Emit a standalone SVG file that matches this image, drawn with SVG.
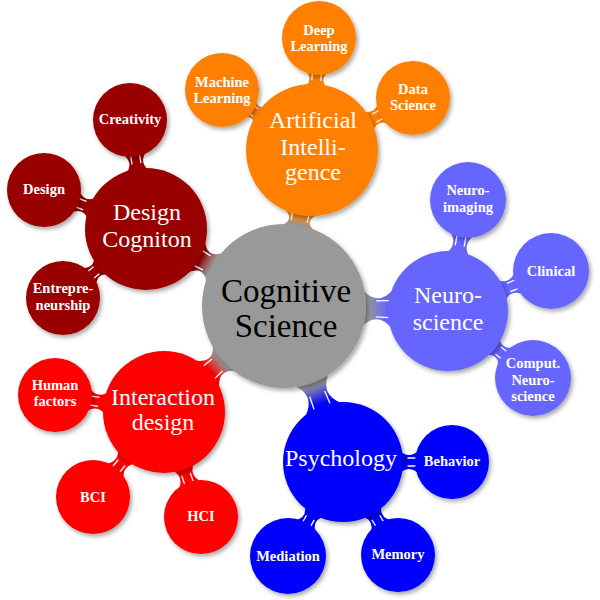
<svg xmlns="http://www.w3.org/2000/svg" width="600" height="600" viewBox="0 0 600 600">
<defs>
<filter id="sh" x="-20%" y="-20%" width="150%" height="150%">
<feDropShadow dx="2" dy="2.5" stdDeviation="2" flood-color="#000" flood-opacity="0.35"/>
</filter>
<linearGradient id="gA" x1="0" y1="0" x2="1" y2="0"><stop offset="0.2" stop-color="#999999"/><stop offset="0.8" stop-color="#ff8000"/></linearGradient>
<linearGradient id="gN" x1="0" y1="0" x2="1" y2="0"><stop offset="0.2" stop-color="#999999"/><stop offset="0.8" stop-color="#6666ff"/></linearGradient>
<linearGradient id="gP" x1="0" y1="0" x2="1" y2="0"><stop offset="0.2" stop-color="#999999"/><stop offset="0.8" stop-color="#0000ff"/></linearGradient>
<linearGradient id="gI" x1="0" y1="0" x2="1" y2="0"><stop offset="0.2" stop-color="#999999"/><stop offset="0.8" stop-color="#ff0000"/></linearGradient>
<linearGradient id="gD" x1="0" y1="0" x2="1" y2="0"><stop offset="0.2" stop-color="#999999"/><stop offset="0.8" stop-color="#990000"/></linearGradient>
</defs>
<style>
.c{filter:url(#sh)}
.tk{stroke:#fff;stroke-width:1.3;fill:none}
text{font-family:'Liberation Serif','DejaVu Serif','Times New Roman',serif;text-anchor:middle}
.t0{font-size:33px;fill:#000}
.t1{font-size:24px;fill:#fff}
.t2{font-size:14.5px;font-weight:bold;fill:#fff}
.or{fill:#ff8000}.dr{fill:#990000}.lb{fill:#6666ff}.rd{fill:#ff0000}.bl{fill:#0000ff}.gr{fill:#999999}
</style>
<rect width="600" height="600" fill="#fff"/>
<g id="connectors">
<g transform="translate(284,306) rotate(-79.8)"><path fill="url(#gA)" d="M77,-20 Q87.25,-1 97.5,-20 L97.5,20 Q87.25,1 77,20Z"/><path class="tk" d="M86,-8 L93.5,-8.5 M86,8 L93.5,8.5"/></g>
<g transform="translate(284,306) rotate(1.75)"><path fill="url(#gN)" d="M77,-20 Q93.05,-1 109.1,-20 L109.1,20 Q93.05,1 77,20Z"/><path class="tk" d="M92,-8 L105.1,-8.5 M92,8 L105.1,8.5"/></g>
<g transform="translate(284,306) rotate(69.28)"><path fill="url(#gP)" d="M77,-20 Q94.4,-1 111.8,-20 L111.8,20 Q94.4,1 77,20Z"/><path class="tk" d="M94,-8 L107.8,-8.5 M94,8 L107.8,8.5"/></g>
<g transform="translate(284,306) rotate(138.55)"><path fill="url(#gI)" d="M77,-20 Q90.55,-1 104.1,-20 L104.1,20 Q90.55,1 77,20Z"/><path class="tk" d="M89,-8 L100.1,-8.5 M89,8 L100.1,8.5"/></g>
<g transform="translate(284,306) rotate(-150.84)"><path fill="url(#gD)" d="M77,-20 Q89.5,-1 102,-20 L102,20 Q89.5,1 77,20Z"/><path class="tk" d="M88.5,-8 L98,-8.5 M88.5,8 L98,8.5"/></g>

<g transform="translate(312,150) rotate(-86.4)"><path class="or" d="M61,-13 Q70.6,-1 80.2,-13 L80.2,13 Q70.6,1 61,13Z"/><path class="tk" d="M69.5,-4.5 L76.2,-4.5 M69.5,4.5 L76.2,4.5"/></g>
<g transform="translate(312,150) rotate(-27.24)"><path class="or" d="M61,-13 Q71.3,-1 81.6,-13 L81.6,13 Q71.3,1 61,13Z"/><path class="tk" d="M70,-4.5 L77.6,-4.5 M70,4.5 L77.6,4.5"/></g>
<g transform="translate(312,150) rotate(-146.31)"><path class="or" d="M61,-13 Q68.6,-1 76.2,-13 L76.2,13 Q68.6,1 61,13Z"/><path class="tk" d="M67.6,-4.5 L72.2,-4.5 M67.6,4.5 L72.2,4.5"/></g>

<g transform="translate(448,311) rotate(-79.8)"><path class="lb" d="M55,-13 Q67.4,-1 79.8,-13 L79.8,13 Q67.4,1 55,13Z"/><path class="tk" d="M66,-4.5 L75.8,-4.5 M66,4.5 L75.8,4.5"/></g>
<g transform="translate(448,311) rotate(-21.22)"><path class="lb" d="M55,-13 Q66.25,-1 77.5,-13 L77.5,13 Q66.25,1 55,13Z"/><path class="tk" d="M65,-4.5 L73.5,-4.5 M65,4.5 L73.5,4.5"/></g>
<g transform="translate(448,311) rotate(38.25)"><path class="lb" d="M55,-13 Q65.1,-1 75.2,-13 L75.2,13 Q65.1,1 55,13Z"/><path class="tk" d="M64,-4.5 L71.2,-4.5 M64,4.5 L71.2,4.5"/></g>

<g transform="translate(343,462) rotate(0)"><path class="bl" d="M55,-13 Q66,-1 77,-13 L77,13 Q66,1 55,13Z"/><path class="tk" d="M64.5,-4 L73,-4 M64.5,4 L73,4"/></g>
<g transform="translate(343,462) rotate(120.33)"><path class="bl" d="M55,-13 Q65.45,-1 75.9,-13 L75.9,13 Q65.45,1 55,13Z"/><path class="tk" d="M64.5,-4.5 L71.9,-4.5 M64.5,4.5 L71.9,4.5"/></g>
<g transform="translate(343,462) rotate(59.4)"><path class="bl" d="M55,-13 Q65.5,-1 76,-13 L76,13 Q65.5,1 55,13Z"/><path class="tk" d="M64.5,-4.5 L72,-4.5 M64.5,4.5 L72,4.5"/></g>

<g transform="translate(164,412) rotate(-171.14)"><path class="rd" d="M56,-13 Q67.15,-1 78.3,-13 L78.3,13 Q67.15,1 56,13Z"/><path class="tk" d="M66,-4.5 L74.3,-4.5 M66,4.5 L74.3,4.5"/></g>
<g transform="translate(164,412) rotate(129.87)"><path class="rd" d="M56,-13 Q67.4,-1 78.75,-13 L78.75,13 Q67.4,1 56,13Z"/><path class="tk" d="M66,-4.5 L74.75,-4.5 M66,4.5 L74.75,4.5"/></g>
<g transform="translate(164,412) rotate(70.59)"><path class="rd" d="M56,-13 Q67.65,-1 79.3,-13 L79.3,13 Q67.65,1 56,13Z"/><path class="tk" d="M66,-4.5 L75.3,-4.5 M66,4.5 L75.3,4.5"/></g>

<g transform="translate(146,229) rotate(-98.35)"><path class="dr" d="M56,-13 Q67.1,-1 78.2,-13 L78.2,13 Q67.1,1 56,13Z"/><path class="tk" d="M66,-4.5 L74.2,-4.5 M66,4.5 L74.2,4.5"/></g>
<g transform="translate(146,229) rotate(-159.08)"><path class="dr" d="M56,-13 Q66.6,-1 77.2,-13 L77.2,13 Q66.6,1 56,13Z"/><path class="tk" d="M65.5,-4.5 L73.2,-4.5 M65.5,4.5 L73.2,4.5"/></g>
<g transform="translate(146,229) rotate(140.26)"><path class="dr" d="M56,-13 Q65.95,-1 75.9,-13 L75.9,13 Q65.95,1 56,13Z"/><path class="tk" d="M64.5,-4.5 L71.9,-4.5 M64.5,4.5 L71.9,4.5"/></g>
</g>

<g id="cognitive-science"><circle class="c gr" cx="284" cy="306" r="82"/><text class="t0" x="286" y="302">Cognitive</text><text class="t0" x="286" y="337">Science</text></g>

<g id="artificial-intelligence"><circle class="c or" cx="312" cy="150" r="66"/><text class="t1" x="313" y="128">Artificial</text><text class="t1" x="313" y="155">Intelli-</text><text class="t1" x="313" y="180">gence</text></g>
<g id="deep-learning"><circle class="c or" cx="319" cy="38" r="37"/><text class="t2" x="319" y="35">Deep</text><text class="t2" x="319" y="51">Learning</text></g>
<g id="data-science"><circle class="c or" cx="413" cy="98" r="37"/><text class="t2" x="413" y="94">Data</text><text class="t2" x="413" y="110">Science</text></g>
<g id="machine-learning"><circle class="c or" cx="222" cy="90" r="37"/><text class="t2" x="222" y="87">Machine</text><text class="t2" x="222" y="103">Learning</text></g>

<g id="neuroscience"><circle class="c lb" cx="448" cy="311" r="60"/><text class="t1" x="448" y="303">Neuro-</text><text class="t1" x="448" y="330">science</text></g>
<g id="neuroimaging"><circle class="c lb" cx="468" cy="200" r="38"/><text class="t2" x="468" y="195">Neuro-</text><text class="t2" x="468" y="212">imaging</text></g>
<g id="clinical"><circle class="c lb" cx="551" cy="271" r="38"/><text class="t2" x="551" y="276">Clinical</text></g>
<g id="comput-neuroscience"><circle class="c lb" cx="533" cy="378" r="38"/><text class="t2" x="533" y="368">Comput.</text><text class="t2" x="533" y="385">Neuro-</text><text class="t2" x="533" y="401">science</text></g>

<g id="psychology"><circle class="c bl" cx="343" cy="462" r="60"/><text class="t1" x="341" y="466">Psychology</text></g>
<g id="behavior"><circle class="c bl" cx="452" cy="462" r="37"/><text class="t2" x="452" y="466">Behavior</text></g>
<g id="mediation"><circle class="c bl" cx="288" cy="556" r="38"/><text class="t2" x="288" y="561">Mediation</text></g>
<g id="memory"><circle class="c bl" cx="398" cy="555" r="37"/><text class="t2" x="398" y="559">Memory</text></g>

<g id="interaction-design"><circle class="c rd" cx="164" cy="412" r="61"/><text class="t1" x="163" y="405">Interaction</text><text class="t1" x="163" y="430">design</text></g>
<g id="human-factors"><circle class="c rd" cx="55" cy="395" r="37"/><text class="t2" x="55" y="390">Human</text><text class="t2" x="55" y="406">factors</text></g>
<g id="bci"><circle class="c rd" cx="93" cy="497" r="37"/><text class="t2" x="93" y="502">BCI</text></g>
<g id="hci"><circle class="c rd" cx="201" cy="517" r="37"/><text class="t2" x="201" y="521">HCI</text></g>

<g id="design-cogniton"><circle class="c dr" cx="146" cy="229" r="61"/><text class="t1" x="147" y="220">Design</text><text class="t1" x="147" y="247">Cogniton</text></g>
<g id="creativity"><circle class="c dr" cx="130" cy="120" r="37"/><text class="t2" x="130" y="124">Creativity</text></g>
<g id="design"><circle class="c dr" cx="44" cy="190" r="37"/><text class="t2" x="44" y="194">Design</text></g>
<g id="entrepreneurship"><circle class="c dr" cx="63" cy="298" r="37"/><text class="t2" x="63" y="293">Entrepre-</text><text class="t2" x="63" y="310">neurship</text></g>
</svg>
